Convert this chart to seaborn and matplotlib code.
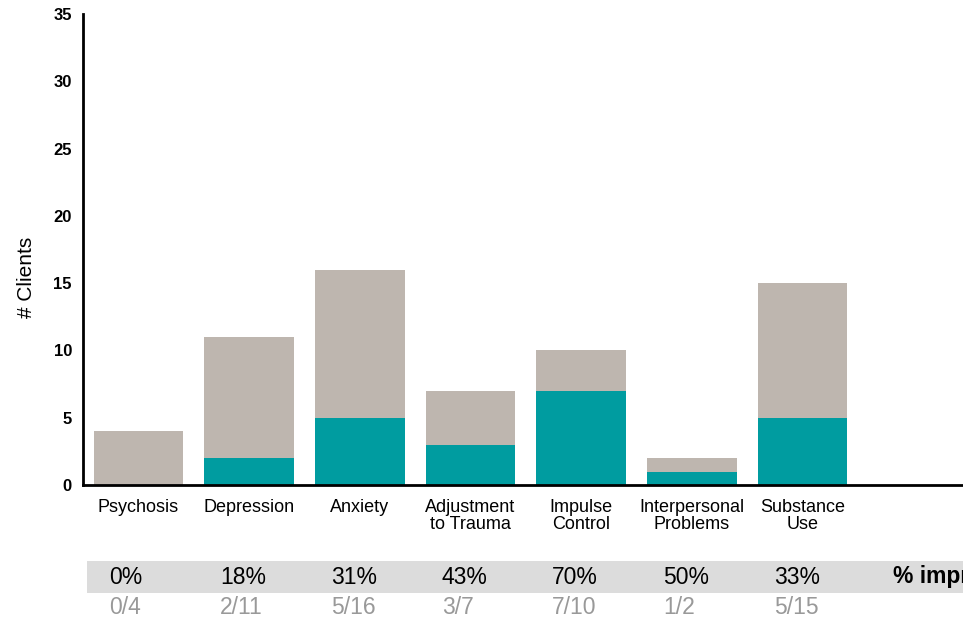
import numpy as np
import pandas as pd
import matplotlib
matplotlib.use("Agg")
import matplotlib.pyplot as plt
import seaborn as sns
from matplotlib.patches import Rectangle
import matplotlib.transforms as mtransforms

# --- Adatok ---
categories = ["Psychosis", "Depression", "Anxiety", "Adjustment\nto Trauma",
              "Impulse\nControl", "Interpersonal\nProblems", "Substance\nUse"]
total_clients = [4, 11, 16, 7, 10, 2, 15]
improved_clients = [0, 2, 5, 3, 7, 1, 5]
pct_labels = ["0%", "18%", "31%", "43%", "70%", "50%", "33%"]
frac_labels = ["0/4", "2/11", "5/16", "3/7", "7/10", "1/2", "5/15"]

gray = "#beb6af"
teal = "#009ca0"

sns.set_style("white")
plt.rcParams["font.family"] = ["Liberation Sans", "DejaVu Sans"]
plt.rcParams["text.color"] = "black"
plt.rcParams["axes.labelcolor"] = "black"
plt.rcParams["xtick.color"] = "black"
plt.rcParams["ytick.color"] = "black"

df = pd.DataFrame({"cat": categories, "total": total_clients, "imp": improved_clients})

fig = plt.figure(figsize=(9.63, 6.23), dpi=100)
ax = fig.add_axes([0.0862, 0.2215, 0.9196, 0.756])

sns.barplot(data=df, x="cat", y="total", color=gray, width=0.81, saturation=1,
            linewidth=0, ax=ax)
sns.barplot(data=df, x="cat", y="imp", color=teal, width=0.81, saturation=1,
            linewidth=0, ax=ax)

ax.set_xlim(-0.5, 7.5)
ax.set_ylim(0, 35)
ax.set_yticks(range(0, 36, 5))
ax.set_yticklabels([str(v) for v in range(0, 36, 5)], fontsize=12, fontweight="bold")
ax.set_xticks(range(len(categories)))
ax.set_xticklabels(categories, fontsize=13, linespacing=1.02)
ax.tick_params(axis="both", length=0)
ax.tick_params(axis="x", pad=10)
ax.tick_params(axis="y", pad=8)
ax.set_xlabel("")
ax.set_ylabel("# Clients", fontsize=15)
ax.yaxis.set_label_coords(-0.053, 0.44)

for s in ["top", "right"]:
    ax.spines[s].set_visible(False)
for s in ["left", "bottom"]:
    ax.spines[s].set_color("black")
    ax.spines[s].set_linewidth(2)

# --- Táblázat alul ---
fig.patches.append(Rectangle((0.0905, 1 - 593 / 623), 1.0, 32 / 623,
                             transform=fig.transFigure, facecolor="#dcdcdc",
                             edgecolor="none", zorder=-5))
trans = mtransforms.blended_transform_factory(ax.transData, fig.transFigure)
for i, (p, f) in enumerate(zip(pct_labels, frac_labels)):
    ax.text(i - 0.26, 1 - 577 / 623, p, transform=trans, ha="left", va="center",
            fontsize=16.5, color="black", clip_on=False, zorder=5)
    ax.text(i - 0.26, 1 - 607 / 623, f, transform=trans, ha="left", va="center",
            fontsize=16.5, color="#999999", clip_on=False, zorder=5)
ax.text(7 - 0.18, 1 - 577 / 623, "% improved", transform=trans, ha="left",
        va="center", fontsize=16.5, fontweight="bold", color="black",
        clip_on=False, zorder=5)

fig.savefig("out.png", dpi=100)
